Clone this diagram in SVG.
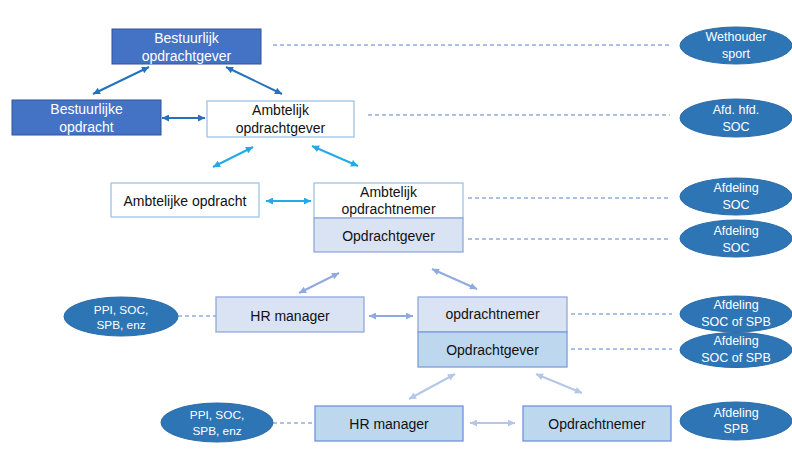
<svg xmlns="http://www.w3.org/2000/svg" width="792" height="452" viewBox="0 0 792 452">
<style>
text{font-family:"Liberation Sans",Arial,sans-serif;text-anchor:middle}
.bt{font-size:14px;fill:#111}
.wt{font-size:14px;fill:#fff}
.et{font-size:12.5px;fill:#fff}
.ep{font-size:11.8px;fill:#fff}
.ell{fill:#2E75B6;stroke:#2A6BA8;stroke-width:1}
.dk{fill:#4472C4;stroke:#2F5597;stroke-width:1}
.wh{fill:#fff;stroke:#9DC3E6;stroke-width:1.3}
.l1{fill:#DAE3F3;stroke:#8FAADC;stroke-width:1.3}
.l2{fill:#BDD7EE;stroke:#7A9EDC;stroke-width:1.3}
.l3{fill:#BDD7EE;stroke:#6F94DA;stroke-width:1.3}
.dash{stroke:#5682CE;stroke-width:1;stroke-dasharray:4 3;fill:none}
.a1{stroke:#2372C0;stroke-width:2;fill:none;marker-start:url(#m1);marker-end:url(#m1)}
.a2{stroke:#22A9E6;stroke-width:2;fill:none;marker-start:url(#m2);marker-end:url(#m2)}
.a3{stroke:#8FAADC;stroke-width:2;fill:none;marker-start:url(#m3);marker-end:url(#m3)}
.a4{stroke:#B4C7E7;stroke-width:2;fill:none;marker-start:url(#m4);marker-end:url(#m4)}
</style>
<defs>
<marker id="m1" viewBox="0 0 10 10" refX="10" refY="5" markerWidth="8" markerHeight="7" markerUnits="userSpaceOnUse" orient="auto-start-reverse"><path d="M0,0L10,5L0,10z" fill="#2372C0"/></marker>
<marker id="m2" viewBox="0 0 10 10" refX="10" refY="5" markerWidth="8" markerHeight="7" markerUnits="userSpaceOnUse" orient="auto-start-reverse"><path d="M0,0L10,5L0,10z" fill="#22A9E6"/></marker>
<marker id="m3" viewBox="0 0 10 10" refX="10" refY="5" markerWidth="8" markerHeight="7" markerUnits="userSpaceOnUse" orient="auto-start-reverse"><path d="M0,0L10,5L0,10z" fill="#8FAADC"/></marker>
<marker id="m4" viewBox="0 0 10 10" refX="10" refY="5" markerWidth="8" markerHeight="7" markerUnits="userSpaceOnUse" orient="auto-start-reverse"><path d="M0,0L10,5L0,10z" fill="#B4C7E7"/></marker>
</defs>
<rect width="792" height="452" fill="#fff"/>

<g id="connectors">
<line class="a1" x1="149" y1="67" x2="93" y2="94"/>
<line class="a1" x1="226" y1="67" x2="282" y2="94"/>
<line class="a1" x1="162" y1="118" x2="205" y2="118"/>
<line class="a2" x1="253" y1="147" x2="213" y2="167"/>
<line class="a2" x1="312" y1="146" x2="358" y2="166"/>
<line class="a2" x1="266" y1="201" x2="311" y2="201"/>
<line class="a3" x1="339" y1="273" x2="299" y2="293"/>
<line class="a3" x1="432" y1="269" x2="477" y2="289"/>
<line class="a3" x1="369" y1="316" x2="413" y2="316"/>
<line class="a4" x1="455" y1="374" x2="409" y2="399"/>
<line class="a4" x1="536" y1="374" x2="582" y2="393"/>
<line class="a4" x1="470" y1="423" x2="515" y2="423"/>
<line class="dash" x1="273" y1="45" x2="670" y2="45"/>
<line class="dash" x1="368" y1="115" x2="670" y2="115"/>
<line class="dash" x1="468" y1="198" x2="670" y2="198"/>
<line class="dash" x1="468" y1="239" x2="670" y2="239"/>
<line class="dash" x1="178" y1="316" x2="216" y2="316"/>
<line class="dash" x1="571" y1="314" x2="672" y2="314"/>
<line class="dash" x1="571" y1="349" x2="672" y2="349"/>
<line class="dash" x1="273" y1="423" x2="315" y2="423"/>
</g>

<g id="bestuurlijk-opdrachtgever"><rect class="dk" x="112" y="29" width="149" height="35"/><text class="wt" x="186.5" y="43">Bestuurlijk</text><text class="wt" x="186.5" y="61">opdrachtgever</text></g>
<g id="bestuurlijke-opdracht"><rect class="dk" x="12" y="100" width="149" height="35"/><text class="wt" x="86.5" y="114">Bestuurlijke</text><text class="wt" x="86.5" y="132">opdracht</text></g>
<g id="ambtelijk-opdrachtgever"><rect class="wh" x="207" y="101" width="147" height="36"/><text class="bt" x="280.5" y="115">Ambtelijk</text><text class="bt" x="280.5" y="133">opdrachtgever</text></g>
<g id="ambtelijke-opdracht"><rect class="wh" x="111" y="183" width="148" height="34"/><text class="bt" x="185" y="206">Ambtelijke opdracht</text></g>
<g id="ambtelijk-opdrachtnemer"><rect class="wh" x="314" y="183" width="149" height="35"/><text class="bt" x="388.5" y="197">Ambtelijk</text><text class="bt" x="388.5" y="214">opdrachtnemer</text></g>
<g id="opdrachtgever-1"><rect class="l1" x="314" y="218" width="149" height="34"/><text class="bt" x="388.5" y="241">Opdrachtgever</text></g>
<g id="hr-manager-1"><rect class="l1" x="216" y="297" width="148" height="35"/><text class="bt" x="290" y="321">HR manager</text></g>
<g id="opdrachtnemer-1"><rect class="l1" x="418" y="297" width="149" height="35"/><text class="bt" x="492.5" y="319">opdrachtnemer</text></g>
<g id="opdrachtgever-2"><rect class="l2" x="418" y="332" width="149" height="35"/><text class="bt" x="492.5" y="355">Opdrachtgever</text></g>
<g id="hr-manager-2"><rect class="l3" x="315" y="406" width="148" height="35"/><text class="bt" x="389" y="429">HR manager</text></g>
<g id="opdrachtnemer-2"><rect class="l3" x="523" y="406" width="148" height="35"/><text class="bt" x="597" y="429">Opdrachtnemer</text></g>

<g id="wethouder-sport"><ellipse class="ell" cx="736" cy="45.5" rx="56" ry="18.5"/><text class="et" x="736" y="41">Wethouder</text><text class="et" x="736" y="58">sport</text></g>
<g id="afd-hfd-soc"><ellipse class="ell" cx="736" cy="118" rx="56" ry="19"/><text class="et" x="736" y="114">Afd. hfd.</text><text class="et" x="736" y="131">SOC</text></g>
<g id="afdeling-soc-1"><ellipse class="ell" cx="736" cy="196.5" rx="56" ry="18.5"/><text class="et" x="736" y="192">Afdeling</text><text class="et" x="736" y="209">SOC</text></g>
<g id="afdeling-soc-2"><ellipse class="ell" cx="736" cy="238.5" rx="56" ry="18.5"/><text class="et" x="736" y="235">Afdeling</text><text class="et" x="736" y="252">SOC</text></g>
<g id="afdeling-soc-spb-1"><ellipse class="ell" cx="736" cy="314" rx="56" ry="18"/><text class="et" x="736" y="309">Afdeling</text><text class="et" x="736" y="326">SOC of SPB</text></g>
<g id="afdeling-soc-spb-2"><ellipse class="ell" cx="736" cy="350" rx="56" ry="17.5"/><text class="et" x="736" y="345">Afdeling</text><text class="et" x="736" y="362">SOC of SPB</text></g>
<g id="ppi-1"><ellipse class="ell" cx="121" cy="316.5" rx="57" ry="19.5"/><text class="ep" x="121" y="314">PPI, SOC,</text><text class="ep" x="121" y="329">SPB, enz</text></g>
<g id="ppi-2"><ellipse class="ell" cx="217" cy="422.5" rx="56" ry="19.5"/><text class="ep" x="217" y="419">PPI, SOC,</text><text class="ep" x="217" y="435">SPB, enz</text></g>
<g id="afdeling-spb"><ellipse class="ell" cx="736" cy="421" rx="56" ry="19"/><text class="et" x="736" y="417">Afdeling</text><text class="et" x="736" y="433">SPB</text></g>
</svg>
